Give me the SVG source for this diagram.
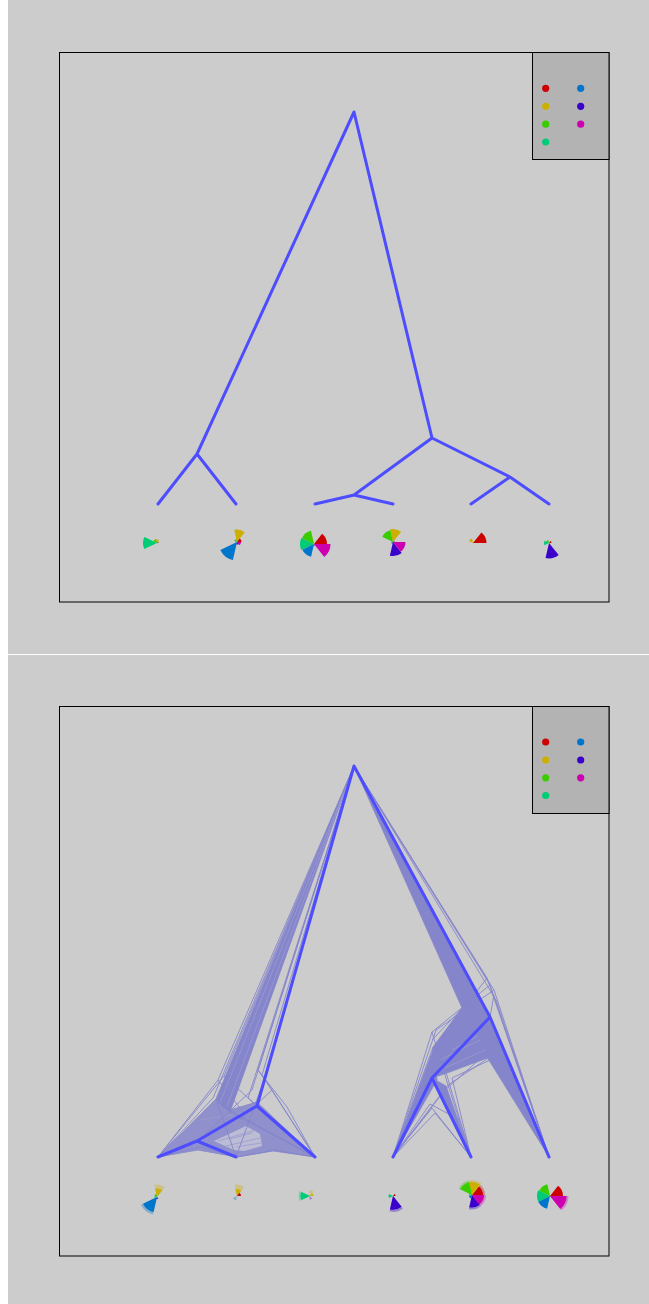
<svg xmlns="http://www.w3.org/2000/svg" xmlns:xlink="http://www.w3.org/1999/xlink" width="649" height="1304" viewBox="0 0 649 1304">
  <style>
    .bg { fill: #cccccc; }
    .frame { fill: none; stroke: #000000; stroke-width: 1; }
    .legend { fill: #b3b3b3; stroke: #000000; stroke-width: 1; }
    .main { fill: none; stroke: #4d4dff; stroke-width: 3; stroke-linecap: round; stroke-linejoin: round; }
    .thin { fill: none; stroke: #8585cc; stroke-width: 0.9; stroke-linejoin: round; }
    .dense { fill: #8585cc; stroke: #8585cc; stroke-width: 0.8; stroke-linejoin: round; }
    .light { fill-opacity: 0.85; }
    .gap { fill: #bcbcd4; stroke: none; }
    .streak { fill: none; stroke: #9a9ad2; stroke-width: 0.8; }
    .c0 { fill: #cc0000; } .c1 { fill: #ccaf00; } .c2 { fill: #3acc00; }
    .c3 { fill: #00cc75; } .c4 { fill: #0075cc; } .c5 { fill: #3a00cc; } .c6 { fill: #cc00af; }
    .fade { opacity: 0.35; }
  </style>
  <defs>
    <!-- unit star segments, radius 10, counter-clockwise from east -->
    <path id="s0" d="M0,0 L10,0 A10,10 0 0 0 6.235,-7.818 Z"/>
    <path id="s1" d="M0,0 L6.235,-7.818 A10,10 0 0 0 -2.225,-9.749 Z"/>
    <path id="s2" d="M0,0 L-2.225,-9.749 A10,10 0 0 0 -9.010,-4.339 Z"/>
    <path id="s3" d="M0,0 L-9.010,-4.339 A10,10 0 0 0 -9.010,4.339 Z"/>
    <path id="s4" d="M0,0 L-9.010,4.339 A10,10 0 0 0 -2.225,9.749 Z"/>
    <path id="s5" d="M0,0 L-2.225,9.749 A10,10 0 0 0 6.235,7.818 Z"/>
    <path id="s6" d="M0,0 L6.235,7.818 A10,10 0 0 0 10,0 Z"/>
    <filter id="soft" x="-50%" y="-50%" width="200%" height="200%">
      <feGaussianBlur stdDeviation="0.7"/>
    </filter>
  </defs>

  <!-- page -->
  <rect x="0" y="0" width="649" height="1304" fill="#ffffff"/>
  <rect class="bg" x="8" y="0" width="641" height="654"/>
  <rect class="bg" x="8" y="655" width="641" height="649"/>

  <!-- ===== upper plot: single tree ===== -->
  <g id="top-panel">
    <rect class="frame" x="59.5" y="52.5" width="549.5" height="549.5"/>
    <g id="top-legend">
      <rect class="legend" x="532.5" y="52.5" width="76.5" height="107"/>
      <circle class="c0" cx="545.7" cy="88.3" r="3.6"/>
      <circle class="c1" cx="545.7" cy="106.3" r="3.6"/>
      <circle class="c2" cx="545.7" cy="124.2" r="3.6"/>
      <circle class="c3" cx="545.7" cy="142" r="3.6"/>
      <circle class="c4" cx="580.7" cy="88.3" r="3.6"/>
      <circle class="c5" cx="580.7" cy="106.3" r="3.6"/>
      <circle class="c6" cx="580.7" cy="124.2" r="3.6"/>
    </g>
    <g id="top-tree-edges">
      <path class="main" d="M354,112 L197,454 L158,504 M197,454 L236,504 M354,112 L432,438 L354,495 L315,504 M354,495 L393,504 M432,438 L510,477 L471,504 M510,477 L549,504"/>
    </g>
    <g id="top-leaf-1" transform="translate(157,543)">
      <use href="#s3" class="c3" transform="scale(1.4)"/>
      <use href="#s2" class="c2" transform="scale(0.4)"/>
      <use href="#s1" class="c1" transform="scale(0.35)"/>
      <use href="#s0" class="c0" transform="scale(0.15)"/>
    </g>
    <g id="top-leaf-2" transform="translate(237,542)">
      <use href="#s1" class="c1" transform="scale(1.25)"/>
      <use href="#s4" class="c4" transform="scale(1.85)"/>
      <use href="#s0" class="c0" transform="scale(0.45)"/>
      <use href="#s2" class="c2" transform="scale(0.3)"/>
      <use href="#s3" class="c3" transform="scale(0.2)"/>
      <use href="#s5" class="c5" transform="scale(0.25)"/>
      <use href="#s6" class="c6" transform="scale(0.4)"/>
    </g>
    <g id="top-leaf-3" transform="translate(314,544)">
      <use href="#s0" class="c0" transform="scale(1.3)"/>
      <use href="#s1" class="c1" transform="scale(0.1)"/>
      <use href="#s2" class="c2" transform="scale(1.35)"/>
      <use href="#s3" class="c3" transform="scale(1.4)"/>
      <use href="#s4" class="c4" transform="scale(1.3)"/>
      <use href="#s5" class="c5" transform="scale(0.15)"/>
      <use href="#s6" class="c6" transform="scale(1.65)"/>
    </g>
    <g id="top-leaf-4" transform="translate(393,542)">
      <use href="#s0" class="c0" transform="scale(0.15)"/>
      <use href="#s1" class="c1" transform="scale(1.3)"/>
      <use href="#s2" class="c2" transform="scale(1.2)"/>
      <use href="#s3" class="c3" transform="scale(0.15)"/>
      <use href="#s4" class="c4" transform="scale(0.2)"/>
      <use href="#s5" class="c5" transform="scale(1.4)"/>
      <use href="#s6" class="c6" transform="scale(1.25)"/>
    </g>
    <g id="top-leaf-5" transform="translate(473,543)">
      <use href="#s0" class="c0" transform="scale(1.35)"/>
      <use href="#s2" class="c1" transform="scale(0.45)"/>
    </g>
    <g id="top-leaf-6" transform="translate(549,543)">
      <use href="#s3" class="c3" transform="scale(0.5)"/>
      <use href="#s2" class="c2" transform="scale(0.3)"/>
      <use href="#s0" class="c0" transform="scale(0.25)"/>
      <use href="#s5" class="c5" transform="scale(1.55)"/>
    </g>
  </g>

  <!-- ===== lower plot: consensus tree over sampled trees ===== -->
  <g id="bottom-panel">
    <rect class="frame" x="59.5" y="706.5" width="549.5" height="549.5"/>
    <g id="bottom-legend">
      <rect class="legend" x="532.5" y="706.5" width="76.5" height="107"/>
      <circle class="c0" cx="545.7" cy="742" r="3.6"/>
      <circle class="c1" cx="545.7" cy="760" r="3.6"/>
      <circle class="c2" cx="545.7" cy="777.8" r="3.6"/>
      <circle class="c3" cx="545.7" cy="795.5" r="3.6"/>
      <circle class="c4" cx="580.7" cy="742" r="3.6"/>
      <circle class="c5" cx="580.7" cy="760" r="3.6"/>
      <circle class="c6" cx="580.7" cy="777.8" r="3.6"/>
    </g>

    <g id="sampled-trees">
      <!-- dense bundles -->
      <path class="dense" d="M354,766 L216,1099 L222,1106 L230,1112 Z"/>
      <path class="streak" d="M354,766 L220,1103 M354,766 L226,1109"/>
      <path class="dense light" d="M158,1157 L216,1099 L230,1110 L257,1102 L315,1157 L273,1151 L237,1157 L198,1150 Z"/>
      <path class="gap" d="M214,1141 L246,1126 L260,1134 L262,1146 L244,1151 L234,1150 Z"/>
      <path class="streak" d="M218,1141 L256,1130 M226,1146 L260,1138 M236,1147 L261,1143 M230,1139 L252,1133 M200,1120 L250,1112"/>
      <path class="dense" d="M354,766 L462,1008 L490,1016 Z"/>
      <path class="dense" d="M462,1008 L490,1016 L490,1057 L447,1073 L432,1078 L433,1047 Z"/>
      <path class="dense" d="M490,1017 L549,1157 L487,1057 Z"/>
      <path class="dense" d="M433,1050 L437,1080 L393,1157 Z"/>
      <path class="dense" d="M432,1078 L446,1086 L471,1157 Z"/>
      <path class="streak" d="M440,1060 L480,1040 M445,1068 L485,1050 M452,1050 L478,1036"/>
      <!-- individual sampled edges -->
      <path class="thin" d="
        M354,766 L218,1080 L158,1157 M218,1080 L240,1108
        M354,766 L224,1076 L158,1157 M224,1076 L257,1106
        M354,766 L213,1098 L158,1157
        M354,766 L248,1098 L315,1157
        M354,766 L252,1090 L198,1141
        M354,766 L258,1070 L272,1090 L315,1157
        M258,1070 L287,1107 L315,1157
        M354,766 L262,1075 L315,1157
        M272,1090 L240,1120
        M354,766 L264,1080 L236,1157
        M222,1106 L315,1157 M230,1112 L315,1157 M216,1099 L236,1157
        M158,1157 L200,1147 L237,1157 M237,1157 L275,1150 L315,1157
        M354,766 L490,985 L549,1157
        M354,766 L494,990 L549,1157
        M354,766 L487,978 L549,1157
        M354,766 L496,1000 L549,1157
        M490,985 L432,1032 L393,1157
        M494,990 L436,1030 L393,1157
        M487,978 L470,1000 L432,1040
        M432,1032 L448,1085 L471,1157
        M490,1057 L448,1085 L393,1157
        M490,1060 L452,1078 L471,1157
        M490,1050 L445,1090 L393,1157
        M393,1157 L432,1108 L471,1157
        M393,1157 L435,1113 L471,1157
        M393,1157 L430,1104 L460,1120
        M433,1047 L393,1157
        M438,1045 L471,1157
        M468,1010 L500,1040 L549,1157
        M494,995 L490,1017"/>
    </g>

    <g id="consensus-edges">
      <path class="main" d="M354,766 L257,1106 L197,1141 L158,1157 M197,1141 L236,1157 M257,1106 L315,1157 M354,766 L490,1017 L432,1078 L393,1157 M432,1078 L471,1157 M490,1017 L549,1157"/>
    </g>

    <g id="bottom-leaves" filter="url(#soft)">
      <g id="bottom-leaf-1" transform="translate(157,1197)">
        <use href="#s4" class="c4 fade" transform="scale(1.8)"/>
        <use href="#s4" class="c4" transform="scale(1.55)"/>
        <use href="#s1" class="c1 fade" transform="scale(1.25)"/>
        <use href="#s1" class="c1" transform="scale(0.85)"/>
        <use href="#s2" class="c2" transform="scale(0.3)"/>
        <use href="#s3" class="c3" transform="scale(0.25)"/>
        <use href="#s5" class="c5" transform="scale(0.2)"/>
      </g>
      <g id="bottom-leaf-2" transform="translate(237,1196)">
        <use href="#s1" class="c1 fade" transform="scale(1.15)"/>
        <use href="#s1" class="c1" transform="scale(0.7)"/>
        <use href="#s0" class="c0" transform="scale(0.4)"/>
        <use href="#s4" class="c4 fade" transform="scale(0.45)"/>
      </g>
      <g id="bottom-leaf-3" transform="translate(310,1196)">
        <use href="#s3" class="c3 fade" transform="scale(1.15)"/>
        <use href="#s3" class="c3" transform="scale(0.95)"/>
        <use href="#s1" class="c1 fade" transform="scale(0.55)"/>
        <use href="#s0" class="c1" transform="scale(0.35)"/>
        <use href="#s5" class="c5 fade" transform="scale(0.35)"/>
      </g>
      <g id="bottom-leaf-4" transform="translate(393,1196)">
        <use href="#s3" class="c3" transform="scale(0.45)"/>
        <use href="#s0" class="c0" transform="scale(0.25)"/>
        <use href="#s5" class="c5 fade" transform="scale(1.6)"/>
        <use href="#s5" class="c5" transform="scale(1.38)"/>
      </g>
      <g id="bottom-leaf-5" transform="translate(472,1195)">
        <use href="#s0" class="c0 fade" transform="scale(1.3)"/>
        <use href="#s0" class="c0" transform="scale(1.1)"/>
        <use href="#s1" class="c1 fade" transform="scale(1.5)"/>
        <use href="#s1" class="c1" transform="scale(1.3)"/>
        <use href="#s2" class="c2 fade" transform="scale(1.5)"/>
        <use href="#s2" class="c2" transform="scale(1.3)"/>
        <use href="#s3" class="c3" transform="scale(0.3)"/>
        <use href="#s4" class="c4" transform="scale(0.35)"/>
        <use href="#s5" class="c5 fade" transform="scale(1.45)"/>
        <use href="#s5" class="c5" transform="scale(1.25)"/>
        <use href="#s6" class="c6 fade" transform="scale(1.4)"/>
        <use href="#s6" class="c6" transform="scale(1.2)"/>
      </g>
      <g id="bottom-leaf-6" transform="translate(550,1196)">
        <use href="#s0" class="c0" transform="scale(1.3)"/>
        <use href="#s1" class="c1" transform="scale(0.1)"/>
        <use href="#s2" class="c2" transform="scale(1.2)"/>
        <use href="#s3" class="c3" transform="scale(1.3)"/>
        <use href="#s4" class="c4" transform="scale(1.3)"/>
        <use href="#s5" class="c5" transform="scale(0.1)"/>
        <use href="#s6" class="c6 fade" transform="scale(1.85)"/>
        <use href="#s6" class="c6" transform="scale(1.65)"/>
      </g>
    </g>
  </g>
</svg>
